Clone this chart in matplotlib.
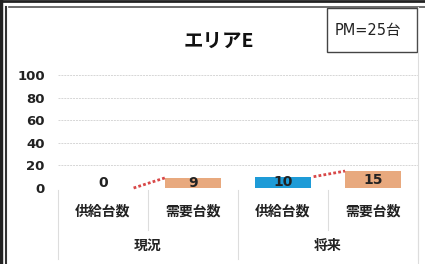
import matplotlib.pyplot as plt
from matplotlib.lines import Line2D
from matplotlib.patches import Rectangle

plt.rcParams['font.family'] = ['DejaVu Sans', 'Noto Sans CJK JP']
CJK = ['Noto Sans CJK JP', 'DejaVu Sans']

# データ
categories = ['供給台数', '需要台数', '供給台数', '需要台数']
groups = ['現況', '将来']
values = [0, 9, 10, 15]
colors = ['#1E9BD7', '#E8A97E', '#1E9BD7', '#E8A97E']
yticks = [0, 20, 40, 60, 80, 100]
title = 'エリアE'
note = 'PM=25台'

fig = plt.figure(figsize=(4.25, 2.64), dpi=100)
fig.patch.set_facecolor('white')

# 外枠
fig.add_artist(Line2D([0, 1], [0.996, 0.996], color='#222222', lw=2.0, transform=fig.transFigure))
fig.add_artist(Line2D([0.02, 1], [0.972, 0.972], color='#555555', lw=1.2, transform=fig.transFigure))
fig.add_artist(Line2D([0.003, 0.003], [0, 1], color='#222222', lw=2.5, transform=fig.transFigure))
fig.add_artist(Line2D([0.014, 0.014], [0, 0.972], color='#333333', lw=1.5, transform=fig.transFigure))
fig.add_artist(Line2D([0.984, 0.984], [0, 0.972], color='#dddddd', lw=0.8, transform=fig.transFigure))

ax = fig.add_axes([58 / 425, (264 - 188) / 264, 360 / 425, 113 / 264])
x = list(range(len(values)))
ax.bar(x, values, width=0.62, color=colors, zorder=3)
ax.set_xlim(-0.5, 3.5)
ax.set_ylim(0, 100)
ax.set_yticks(yticks)
ax.set_yticklabels([str(t) for t in yticks], fontsize=9.5, fontweight='bold', color='#222222')
ax.tick_params(axis='y', length=0, pad=9.5)
ax.set_xticks([])
for s in ax.spines.values():
    s.set_visible(False)
for t in yticks[1:]:
    ax.axhline(t, color='#d6d6d6', lw=0.7, ls=(0, (2, 1)), zorder=1)

# データラベル
for xi, v in zip(x, values):
    ax.text(xi, max(v / 2, 4.5), str(v), ha='center', va='center',
            fontsize=10, fontweight='bold', color='#222222', zorder=4)

# 供給→需要の点線
for i in (0, 2):
    ax.plot([x[i] + 0.34, x[i + 1] - 0.31], [values[i], values[i + 1]],
            color='#D84848', lw=2, ls=(0, (1, 0.8)), zorder=4, clip_on=False)

# 項目ラベル
tr = ax.get_xaxis_transform()
for xi, c in zip(x, categories):
    ax.text(xi, -0.205, c, transform=tr, ha='center', va='center', family=CJK,
            fontsize=10, fontweight='bold', color='#222222')
for gi, g in enumerate(groups):
    ax.text(gi * 2 + 0.5, -0.51, g, transform=tr, ha='center', va='center', family=CJK,
            fontsize=10, fontweight='bold', color='#222222')
for xv, yb in [(-0.5, -0.63), (1.5, -0.63), (3.5, -0.63), (0.5, -0.37), (2.5, -0.37)]:
    ax.plot([xv, xv], [-0.02, yb], transform=tr, color='#dddddd', lw=0.8, clip_on=False)

# タイトル
fig.text(219 / 425, 1 - 41 / 264, title, ha='center', va='center', family=CJK,
         fontsize=14, fontweight='bold', color='#111111')

# PMボックス
fig.add_artist(Rectangle((327 / 425, 1 - 52 / 264), 90 / 425, 44 / 264,
                         transform=fig.transFigure, fill=False, ec='#444444', lw=1.0))
fig.text(368 / 425, 1 - 31 / 264, note, ha='center', va='center',
         fontsize=10.5, color='#222222')

fig.savefig('out.png', dpi=100, facecolor='white')
